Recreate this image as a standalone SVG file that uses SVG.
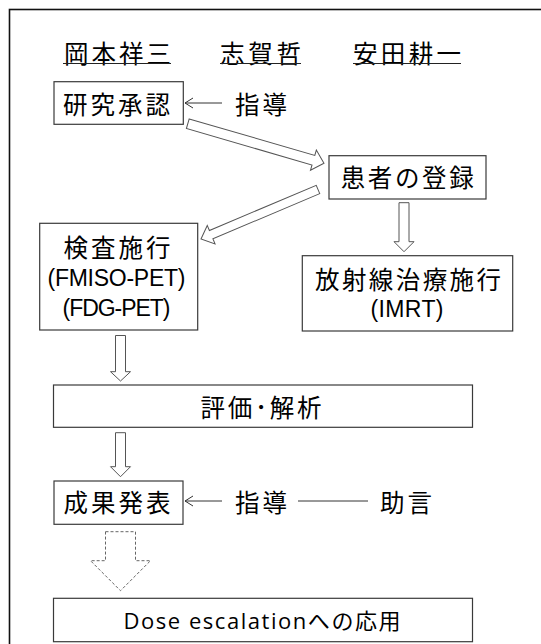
<svg xmlns="http://www.w3.org/2000/svg" width="541" height="644" viewBox="0 0 541 644">
<defs>
<style>
.t{font-family:"Noto Sans CJK JP","Noto Sans",sans-serif;font-size:24.5px;fill:#000;text-anchor:middle;dominant-baseline:central}
.l{font-family:"Liberation Sans","Noto Sans CJK JP",sans-serif;font-size:23px;fill:#000;text-anchor:middle;dominant-baseline:central}
.d{font-family:"Open Sans","Noto Sans CJK JP",sans-serif;font-size:22px;fill:#000;text-anchor:middle;dominant-baseline:central}
.box{fill:#fff;stroke:#3a3a3a;stroke-width:1.2}
.blk{fill:#fff;stroke:#555;stroke-width:1}
.dsh{fill:#fff;stroke:#666;stroke-width:1;stroke-dasharray:3 2}
.thin{fill:none;stroke:#333;stroke-width:1}
</style>
<marker id="open" viewBox="-10 -7 12 14" markerWidth="12" markerHeight="14" refX="0" refY="0" orient="auto" markerUnits="userSpaceOnUse">
<path d="M-8,-5 L0,0 L-8,5" fill="none" stroke="#333" stroke-width="1"/>
</marker>
</defs>
<rect x="0" y="0" width="541" height="644" fill="#fff"/>
<rect id="frame" x="9.5" y="9.5" width="560" height="660" fill="none" stroke="#111" stroke-width="1.6"/>

<g id="names">
<text class="t" x="117.5" y="52" textLength="107" lengthAdjust="spacing">岡本祥三</text>
<line x1="63" y1="63.5" x2="171" y2="63.5" stroke="#222" stroke-width="1.2"/>
<text class="t" x="260.5" y="52" textLength="81" lengthAdjust="spacing">志賀哲</text>
<line x1="220" y1="63.5" x2="301" y2="63.5" stroke="#222" stroke-width="1.2"/>
<text class="t" x="407" y="52" textLength="108" lengthAdjust="spacing">安田耕一</text>
<line x1="353" y1="63.5" x2="461" y2="63.5" stroke="#222" stroke-width="1.2"/>
</g>

<g id="connectors">
<line class="thin" x1="222" y1="103" x2="185" y2="103" marker-end="url(#open)"/>
<line class="thin" x1="222" y1="501" x2="185" y2="501" marker-end="url(#open)"/>
<line class="thin" x1="298" y1="501" x2="368" y2="501"/>
<polygon class="blk" transform="translate(187.8,123.7) rotate(16.2)" points="0,-5 130.8,-5 130.8,-10.5 141.8,0 130.8,10.5 130.8,5 0,5"/>
<polygon class="blk" transform="translate(318,189.5) rotate(157.1)" points="0,-4.5 116,-4.5 116,-10 127,0 116,10 116,4.5 0,4.5"/>
<polygon class="blk" points="399,202.7 409,202.7 409,241.7 414,241.7 404,251.7 394,241.7 399,241.7"/>
<polygon class="blk" points="115.5,335.5 125.5,335.5 125.5,371.7 130.5,371.7 120.5,381 110.5,371.7 115.5,371.7"/>
<polygon class="blk" points="115.5,432.7 125.5,432.7 125.5,466.7 130.5,466.7 120.5,476.7 110.5,466.7 115.5,466.7"/>
<polygon class="dsh" points="105.5,531.7 135.5,531.7 135.5,560.7 150.5,560.7 120.5,590.7 90.5,560.7 105.5,560.7"/>
</g>

<g id="n-approval">
<rect class="box" x="54" y="81.7" width="129.3" height="42.6"/>
<text class="t" x="116.5" y="103" textLength="107" lengthAdjust="spacing">研究承認</text>
</g>
<g id="l-guide1">
<text class="t" x="261" y="103" textLength="52" lengthAdjust="spacing">指導</text>
</g>
<g id="n-register">
<rect class="box" x="329" y="155.7" width="157" height="43.3"/>
<text class="t" x="407.2" y="176.5" textLength="133" lengthAdjust="spacing">患者の登録</text>
</g>
<g id="n-exam">
<rect class="box" x="39.7" y="223.3" width="158" height="106.7"/>
<text class="t" x="117" y="246.5" textLength="107" lengthAdjust="spacing">検査施行</text>
<text class="l" x="116.5" y="278" textLength="138" lengthAdjust="spacing">(FMISO-PET)</text>
<text class="l" x="116.5" y="308" textLength="108" lengthAdjust="spacing">(FDG-PET)</text>
</g>
<g id="n-radio">
<rect class="box" x="302.3" y="255.7" width="210.4" height="75.3"/>
<text class="t" x="408" y="278" textLength="186" lengthAdjust="spacing">放射線治療施行</text>
<text class="l" x="407" y="309" textLength="73" lengthAdjust="spacing">(IMRT)</text>
</g>
<g id="n-eval">
<rect class="box" x="53.5" y="385" width="419" height="42.3"/>
<text class="t" x="261" y="406.5" textLength="121" lengthAdjust="spacing">評価･解析</text>
</g>
<g id="n-present">
<rect class="box" x="54" y="481" width="129" height="43.3"/>
<text class="t" x="117" y="501" textLength="107" lengthAdjust="spacing">成果発表</text>
</g>
<g id="l-guide2">
<text class="t" x="261" y="501" textLength="52" lengthAdjust="spacing">指導</text>
</g>
<g id="l-advice">
<text class="t" x="406" y="501" textLength="52" lengthAdjust="spacing">助言</text>
</g>
<g id="n-dose">
<rect class="box" x="53.5" y="598.3" width="419" height="43.4"/>
<text class="d" x="262" y="620" textLength="277" lengthAdjust="spacing">Dose escalationへの応用</text>
</g>
</svg>
